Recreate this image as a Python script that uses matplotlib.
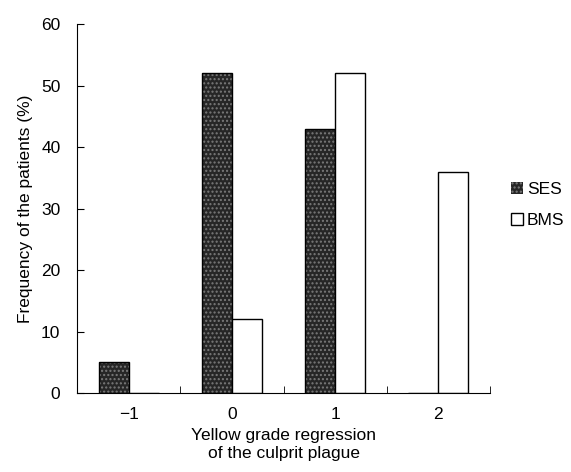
import numpy as np
import matplotlib.pyplot as plt

plt.rcParams['font.family'] = ['Liberation Sans', 'DejaVu Sans']

# Data
grades = ['\u22121', '0', '1', '2']
ses = [5, 52, 43, 0]
bms = [0, 12, 52, 36]

x = np.arange(len(grades))
w = 0.29

fig = plt.figure(figsize=(5.71, 4.72), dpi=100)
ax = fig.add_axes([0.135, 0.167, 0.723, 0.782])

# dark speckled bars for SES, white bars for BMS
ax.bar(x - w / 2, ses, w, color='#262626', edgecolor='#7a7a7a',
       hatch='....', linewidth=0, label='SES')
ax.bar(x - w / 2, ses, w, fill=False, edgecolor='black', linewidth=1.0)
ax.bar(x + w / 2, bms, w, color='white', edgecolor='black',
       linewidth=1.0, label='BMS')

ax.set_xlim(-0.5, len(grades) - 0.5)
ax.set_ylim(0, 60)
ax.set_yticks(range(0, 61, 10))
ax.set_xticks(x)
ax.set_xticklabels(grades)
ax.set_xticks(np.arange(-0.5, len(grades), 1), minor=True)
ax.tick_params(axis='x', which='major', length=0, labelsize=12.5, pad=10)
ax.tick_params(axis='x', which='minor', direction='in', length=5)
ax.tick_params(axis='y', direction='in', length=5, labelsize=12.5, pad=12)

for s in ['top', 'right']:
    ax.spines[s].set_visible(False)

ax.set_ylabel('Frequency of the patients (%)', fontsize=12.5, labelpad=6)
ax.set_xlabel('Yellow grade regression\nof the culprit plague', fontsize=12.5,
              labelpad=4, linespacing=1.3)

ax.legend(loc='center left', bbox_to_anchor=(1.035, 0.51), frameon=False,
          fontsize=12.5, handlelength=0.7, handleheight=0.7,
          handletextpad=0.2, labelspacing=0.9, borderaxespad=0)

fig.savefig('out.png', dpi=100)
